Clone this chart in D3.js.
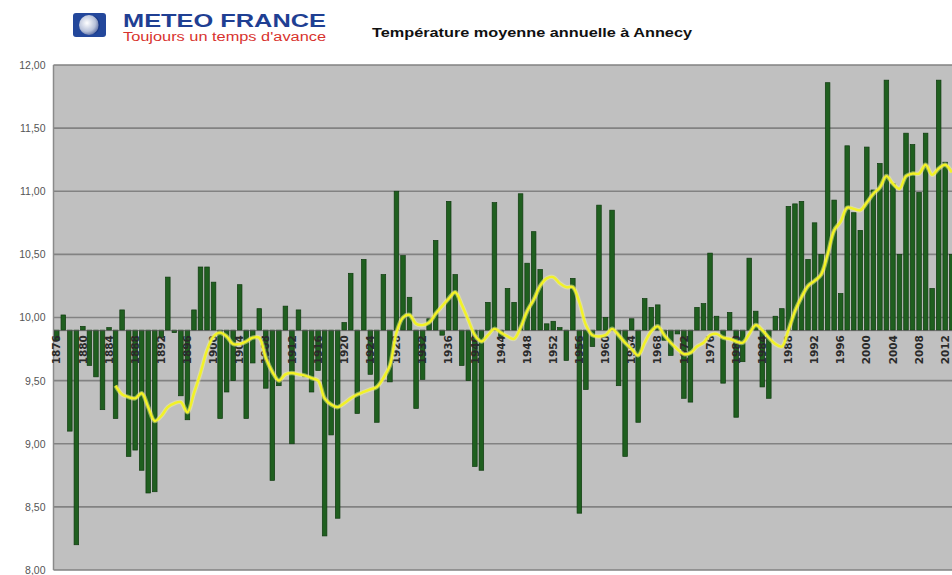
<!DOCTYPE html>
<html>
<head>
<meta charset="utf-8">
<script src="https://cdn.jsdelivr.net/npm/d3@7"></script>
<style>
  body { margin: 0; background: #fff; }
  svg { display: block; }
</style>
</head>
<body>
<svg id="chart" width="952" height="575"></svg>
<script>
// annual mean temperature at Annecy, one value per year from firstYear on
const firstYear = 1876;
const temps = [
  9.82, 10.02, 9.10, 8.20, 9.93, 9.62, 9.53, 9.27, 9.92, 9.20,   // 1876-1885
  10.06, 8.90, 8.95, 8.79, 8.61, 8.62, 9.84, 10.32, 9.88, 9.38,  // 1886-1895
  9.19, 10.06, 10.40, 10.40, 10.28, 9.20, 9.41, 9.50, 10.26, 9.20, // 1896-1905
  9.64, 10.07, 9.44, 8.71, 9.46, 10.09, 9.00, 10.06, 9.53, 9.41, // 1906-1915
  9.58, 8.27, 9.07, 8.41, 9.96, 10.35, 9.24, 10.46, 9.55, 9.17,  // 1916-1925
  10.34, 9.49, 11.00, 10.49, 10.16, 9.28, 9.51, 9.99, 10.61, 9.86, // 1926-1935
  10.92, 10.34, 9.62, 9.50, 8.82, 8.79, 10.12, 10.91, 9.85, 10.23, // 1936-1945
  10.12, 10.98, 10.43, 10.68, 10.38, 9.95, 9.97, 9.92, 9.66, 10.31, // 1946-1955
  8.45, 9.43, 9.77, 10.89, 10.00, 10.85, 9.46, 8.90, 9.99, 9.17, // 1956-1965
  10.15, 10.08, 10.10, 9.82, 9.70, 9.87, 9.36, 9.33, 10.08, 10.11, // 1966-1975
  10.51, 10.01, 9.48, 10.04, 9.21, 9.65, 10.47, 10.05, 9.45, 9.36, // 1976-1985
  10.01, 10.07, 10.88, 10.90, 10.92, 10.46, 10.75, 10.50, 11.86, 10.93, // 1986-1995
  10.19, 11.36, 10.83, 10.69, 11.35, 11.01, 11.22, 11.88, 11.06, 10.50, // 1996-2005
  11.46, 11.37, 10.99, 11.46, 10.23, 11.88, 11.23, 10.50        // 2006-2013
];

// yellow smoothed curve
const maFirstYear = 1885;
const maTemps = [
  9.46, 9.39, 9.37, 9.36, 9.40, 9.29, 9.18, 9.22, 9.29, 9.32,    // 1885-1894
  9.33, 9.25, 9.40, 9.56, 9.74, 9.85, 9.88, 9.85, 9.79, 9.79,    // 1895-1904
  9.81, 9.84, 9.84, 9.68, 9.57, 9.50, 9.55, 9.56, 9.55, 9.54,    // 1905-1914
  9.52, 9.50, 9.36, 9.31, 9.29, 9.32, 9.36, 9.39, 9.41, 9.43,    // 1915-1924
  9.45, 9.52, 9.62, 9.88, 10.00, 10.02, 9.95, 9.94, 9.96, 10.03, // 1925-1934
  10.09, 10.15, 10.20, 10.10, 9.98, 9.86, 9.81, 9.86, 9.91, 9.88, // 1935-1944
  9.85, 9.83, 9.92, 10.05, 10.14, 10.25, 10.31, 10.32, 10.27, 10.24, // 1945-1954
  10.24, 10.12, 9.94, 9.86, 9.85, 9.86, 9.91, 9.86, 9.80, 9.75,  // 1955-1964
  9.70, 9.80, 9.89, 9.93, 9.86, 9.80, 9.75, 9.71, 9.72, 9.77,    // 1965-1974
  9.80, 9.86, 9.87, 9.84, 9.83, 9.81, 9.80, 9.87, 9.94, 9.90,    // 1975-1984
  9.84, 9.79, 9.77, 9.90, 10.05, 10.16, 10.25, 10.29, 10.34, 10.50, // 1985-1994
  10.69, 10.76, 10.87, 10.86, 10.85, 10.91, 10.98, 11.03, 11.12, 11.06, // 1995-2004
  11.02, 11.12, 11.14, 11.14, 11.21, 11.13, 11.18, 11.21, 11.15  // 2005-2013
];

const yearTicks = [1876, 1880, 1884, 1888, 1892, 1896, 1900, 1904, 1908, 1912,
  1916, 1920, 1924, 1928, 1932, 1936, 1940, 1944, 1948, 1952, 1956, 1960,
  1964, 1968, 1972, 1976, 1980, 1984, 1988, 1992, 1996, 2000, 2004, 2008, 2012];
const tempTicks = [8, 8.5, 9, 9.5, 10, 10.5, 11, 11.5, 12];
const baseline = 9.9;

const title = "Température moyenne annuelle à Annecy";
const brand = "METEO FRANCE";
const slogan = "Toujours un temps d'avance";

const width = 952, height = 575;
const plot = {left: 53.5, right: 955, top: 65, bottom: 570};

const years = temps.map((t, i) => firstYear + i);
const data = temps.map((t, i) => ({year: years[i], value: t}));
const maData = maTemps.map((t, i) => ({year: maFirstYear + i, value: t}));

const svg = d3.select("#chart");

const xScale = d3.scaleBand()
    .domain(years)
    .range([plot.left, plot.right])
    .paddingInner(0.3)
    .paddingOuter(0.15);

const yScale = d3.scaleLinear()
    .domain([8, 12])
    .range([plot.bottom, plot.top]);

const fmt = d => d3.format(".2f")(d).replace(".", ",");

// header: logo + title
const logo = svg.append("g");
const grad = svg.append("defs").append("radialGradient")
    .attr("id", "globe").attr("cx", "40%").attr("cy", "40%").attr("r", "60%");
grad.append("stop").attr("offset", "0%").attr("stop-color", "#ffffff");
grad.append("stop").attr("offset", "70%").attr("stop-color", "#b8c2da");
grad.append("stop").attr("offset", "100%").attr("stop-color", "#6f7fae");

logo.append("rect")
    .attr("x", 73).attr("y", 13).attr("width", 33).attr("height", 24)
    .attr("rx", 3).attr("fill", "#23479b");
logo.append("circle")
    .attr("cx", 89).attr("cy", 25).attr("r", 10)
    .attr("fill", "url(#globe)");
logo.append("path")
    .attr("d", "M93,16 A10,10 0 0,1 93,34 A7,9 0 0,0 93,16 Z")
    .attr("fill", "#1b3a86");

logo.append("text")
    .attr("x", 123).attr("y", 27)
    .attr("font-family", "Arial, 'Liberation Sans', sans-serif")
    .attr("font-weight", "bold")
    .attr("font-size", 19)
    .attr("fill", "#1f3f93")
    .attr("textLength", 203).attr("lengthAdjust", "spacingAndGlyphs")
    .text(brand);
logo.append("text")
    .attr("x", 123).attr("y", 40.5)
    .attr("font-family", "Arial, 'Liberation Sans', sans-serif")
    .attr("font-size", 12)
    .attr("fill", "#d8332e")
    .attr("textLength", 203).attr("lengthAdjust", "spacingAndGlyphs")
    .text(slogan);

svg.append("text")
    .attr("x", 372).attr("y", 37)
    .attr("font-family", "Arial, 'Liberation Sans', sans-serif")
    .attr("font-weight", "bold")
    .attr("font-size", 12)
    .attr("fill", "#111")
    .attr("textLength", 320).attr("lengthAdjust", "spacingAndGlyphs")
    .text(title);

// plot area
svg.append("rect")
    .attr("x", plot.left).attr("y", plot.top)
    .attr("width", plot.right - plot.left).attr("height", plot.bottom - plot.top)
    .attr("fill", "#c0c0c0");

svg.append("g").selectAll("line")
    .data(tempTicks)
    .join("line")
    .attr("x1", plot.left).attr("x2", plot.right)
    .attr("y1", d => yScale(d)).attr("y2", d => yScale(d))
    .attr("stroke", "#828282")
    .attr("stroke-width", 1.6);

svg.append("line")
    .attr("x1", plot.left).attr("x2", plot.left)
    .attr("y1", plot.top).attr("y2", plot.bottom)
    .attr("stroke", "#8a8a8a").attr("stroke-width", 1.5);

// y axis labels
const yAxis = d3.axisLeft(yScale)
    .tickValues(tempTicks)
    .tickFormat(fmt)
    .tickSize(0)
    .tickPadding(8);
const yg = svg.append("g")
    .attr("transform", "translate(" + plot.left + ",0)")
    .call(yAxis);
yg.select(".domain").remove();
yg.selectAll("text")
    .attr("font-family", "Arial, 'Liberation Sans', sans-serif")
    .attr("font-size", 10.5)
    .attr("fill", "#555");

// bars from the 9.9 baseline
svg.append("g").selectAll("rect")
    .data(data)
    .join("rect")
    .attr("x", d => xScale(d.year))
    .attr("width", xScale.bandwidth())
    .attr("y", d => yScale(Math.max(d.value, baseline)))
    .attr("height", d => Math.abs(yScale(d.value) - yScale(baseline)))
    .attr("fill", "#1f5f1f")
    .attr("stroke", "#0f3a0f")
    .attr("stroke-width", 0.7);

// category axis at the baseline, labels rotated
const xAxis = d3.axisBottom(xScale)
    .tickValues(yearTicks)
    .tickSize(0)
    .tickPadding(0);
const xg = svg.append("g")
    .attr("transform", "translate(0," + yScale(baseline) + ")")
    .call(xAxis);
xg.select(".domain")
    .attr("stroke", "#5a5a5a").attr("stroke-width", 0.8);
xg.selectAll("text")
    .attr("font-family", "'DejaVu Sans', Verdana, sans-serif")
    .attr("font-weight", "bold")
    .attr("font-size", 10.5)
    .attr("fill", "#2a2a2a")
    .attr("text-anchor", "end")
    .attr("dy", "0.35em")
    .attr("transform", "translate(0,5) rotate(-90)");

// smoothed yellow curve
const line = d3.line()
    .curve(d3.curveCatmullRom)
    .x(d => xScale(d.year) + xScale.bandwidth() / 2)
    .y(d => yScale(d.value));

svg.append("path")
    .datum(maData)
    .attr("d", line)
    .attr("fill", "none")
    .attr("stroke", "#f4f49a")
    .attr("stroke-opacity", 0.5)
    .attr("stroke-width", 4.5);
svg.append("path")
    .datum(maData)
    .attr("d", line)
    .attr("fill", "none")
    .attr("stroke", "#f2f226")
    .attr("stroke-width", 2.4);
</script>
</body>
</html>
